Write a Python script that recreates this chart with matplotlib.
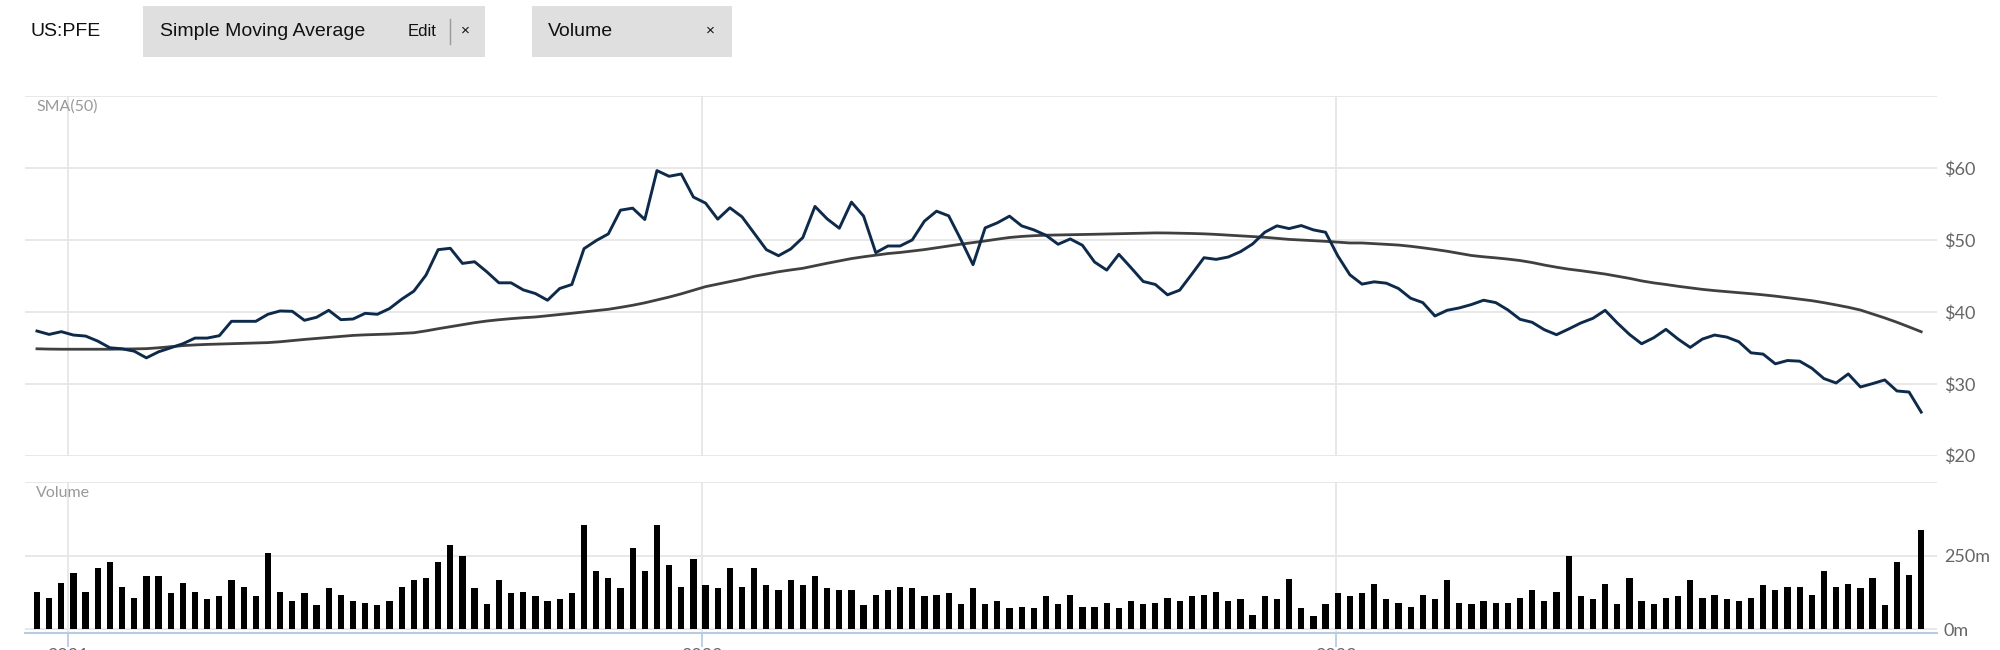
import matplotlib
matplotlib.use("Agg")
import matplotlib.pyplot as plt
import matplotlib.dates as mdates
from matplotlib.patches import Rectangle
from matplotlib.lines import Line2D
import pandas as pd

# weekly closes, US:PFE
dates = pd.date_range("2020-12-14", periods=156, freq="7D")

price = [37.33, 36.86, 37.24, 36.77, 36.63, 35.93, 35.0, 34.86, 34.53, 33.60,
         34.44, 35.0, 35.56, 36.35, 36.35, 36.68, 38.68, 38.68, 38.68, 39.66,
         40.12, 40.07, 38.82, 39.24, 40.21, 38.91, 39.0, 39.79, 39.66, 40.45,
         41.75, 42.87, 45.10, 48.64, 48.83, 46.73, 46.96, 45.57, 44.03, 44.03,
         43.05, 42.54, 41.61, 43.24, 43.80, 48.78, 49.90, 50.83, 54.13, 54.41,
         52.83, 59.63, 58.84, 59.16, 55.95, 55.11, 52.88, 54.46, 53.2, 50.92,
         48.64, 47.80, 48.73, 50.32, 54.65, 52.92, 51.62, 55.25, 53.30, 48.22,
         49.15, 49.15, 49.99, 52.60, 53.99, 53.34, 50.04, 46.55, 51.67, 52.37,
         53.30, 51.95, 51.39, 50.64, 49.39, 50.13, 49.25, 46.92, 45.80, 47.99,
         46.13, 44.22, 43.80, 42.36, 43.01, 45.24, 47.52, 47.29, 47.62, 48.36,
         49.43, 51.06, 51.95, 51.57, 51.99, 51.39, 51.06, 47.80, 45.15, 43.85,
         44.17, 43.98, 43.24, 41.89, 41.28, 39.42, 40.21, 40.54, 41.01, 41.61,
         41.28, 40.26, 38.96, 38.54, 37.51, 36.82, 37.61, 38.45, 39.10, 40.21,
         38.45, 36.86, 35.56, 36.40, 37.56, 36.21, 35.05, 36.21, 36.77, 36.49,
         35.84, 34.30, 34.12, 32.77, 33.23, 33.14, 32.16, 30.72, 30.11, 31.37,
         29.55, 30.02, 30.53, 29.0, 28.85, 26.06]

sma50 = [34.86, 34.82, 34.8, 34.8, 34.8, 34.8, 34.8, 34.82, 34.85, 34.88,
         35.0, 35.15, 35.3, 35.4, 35.47, 35.52, 35.56, 35.61, 35.66, 35.72,
         35.84, 36.0, 36.16, 36.3, 36.44, 36.58, 36.72, 36.8, 36.86, 36.91,
         37.0, 37.09, 37.35, 37.65, 37.93, 38.2, 38.49, 38.72, 38.9, 39.05,
         39.18, 39.28, 39.45, 39.61, 39.8, 39.98, 40.15, 40.35, 40.62, 40.91,
         41.25, 41.65, 42.05, 42.5, 43.0, 43.5, 43.85, 44.2, 44.55, 44.95,
         45.25, 45.57, 45.82, 46.05, 46.4, 46.75, 47.08, 47.4, 47.65, 47.88,
         48.1, 48.25, 48.45, 48.65, 48.9, 49.15, 49.4, 49.62, 49.85, 50.1,
         50.33, 50.48, 50.58, 50.65, 50.68, 50.72, 50.75, 50.78, 50.82, 50.86,
         50.9, 50.94, 50.97, 50.96, 50.93, 50.89, 50.84, 50.76, 50.66, 50.56,
         50.46, 50.36, 50.22, 50.07, 49.98, 49.9, 49.8, 49.68, 49.57, 49.57,
         49.48, 49.38, 49.28, 49.11, 48.9, 48.67, 48.42, 48.12, 47.83, 47.65,
         47.5, 47.33, 47.13, 46.85, 46.5, 46.2, 45.93, 45.72, 45.48, 45.25,
         44.95, 44.65, 44.3, 44.02, 43.8, 43.55, 43.33, 43.12, 42.95, 42.8,
         42.66, 42.52, 42.36, 42.18, 41.97, 41.75, 41.55, 41.27, 40.96, 40.63,
         40.25, 39.7, 39.15, 38.55, 37.9, 37.23]

volume = [127, 106, 158, 191, 127, 206, 227, 144, 106, 180,
          180, 122, 158, 127, 101, 111, 165, 144, 111, 260,
          127, 96, 122, 80, 138, 116, 96, 90, 80, 96,
          144, 165, 175, 227, 286, 249, 138, 85, 165, 122,
          127, 111, 96, 101, 122, 355, 196, 175, 138, 275,
          196, 355, 217, 144, 239, 148, 138, 206, 144, 206,
          148, 132, 165, 148, 180, 138, 132, 132, 80, 116,
          132, 144, 138, 111, 116, 122, 85, 138, 85, 96,
          70, 75, 70, 111, 85, 116, 75, 75, 90, 70,
          96, 85, 90, 106, 96, 111, 116, 127, 96, 101,
          49, 111, 101, 170, 70, 43, 85, 122, 111, 122,
          154, 101, 90, 75, 116, 101, 165, 90, 85, 96,
          90, 90, 106, 132, 96, 127, 249, 111, 101, 154,
          85, 175, 96, 85, 106, 111, 165, 106, 116, 101,
          96, 106, 148, 132, 144, 144, 116, 196, 144, 154,
          138, 175, 80, 227, 185, 338]

year_ticks = pd.to_datetime(["2021-01-01", "2022-01-01", "2023-01-01"])
year_labels = ["2021", "2022", "2023"]
price_ticks = [20, 30, 40, 50, 60, 70]
price_labels = ["$20", "$30", "$40", "$50", "$60", ""]
vol_ticks = [0, 250, 500]
vol_labels = ["0m", "250m", ""]

W, H = 2000, 650
GRID = "#e6e6e6"
TICK = "#666666"
AXBLUE = "#b9cbe3"

fig = plt.figure(figsize=(20, 6.5), dpi=100)
fig.patch.set_facecolor("white")


def px(x, y):
    return x / W, 1 - y / H


x0 = mdates.date2num(dates[0])
xlim = (x0 - 6.9, x0 + 156.3 * 7)

# price panel
ax1 = fig.add_axes([25 / W, (H - 455.7) / H, 1912 / W, 359.7 / H])
ax1.plot(dates, sma50, color="#404040", lw=2.0, zorder=3)
ax1.plot(dates, price, color="#0e2a4b", lw=2.1, zorder=4)
ax1.set_xlim(xlim)
ax1.set_ylim(20, 70)
ax1.set_yticks(price_ticks)
ax1.set_yticklabels(price_labels)
ax1.yaxis.tick_right()
ax1.set_xticks(year_ticks)
ax1.tick_params(axis="x", length=0, labelbottom=False)
ax1.tick_params(axis="y", length=0, pad=5, labelsize=13, labelcolor=TICK)
ax1.grid(True, color=GRID, lw=1.3)
ax1.set_axisbelow(True)
for s in ax1.spines.values():
    s.set_visible(False)
for lab in ax1.get_yticklabels():
    lab.set_fontfamily("Lato")

# volume panel
ax2 = fig.add_axes([25 / W, (H - 633) / H, 1912 / W, 151 / H])
ax2.bar(dates, volume, width=3.6, color="black", zorder=3)
ax2.set_xlim(xlim)
ax2.set_ylim(-13.6, 500)
ax2.set_yticks(vol_ticks)
ax2.set_yticklabels(vol_labels)
ax2.yaxis.tick_right()
ax2.set_xticks(year_ticks)
ax2.set_xticklabels(year_labels)
ax2.tick_params(axis="x", length=10, width=1.3, color=AXBLUE, pad=1,
                labelsize=13, labelcolor=TICK)
ax2.tick_params(axis="y", length=0, pad=5, labelsize=13, labelcolor=TICK)
ax2.grid(True, color=GRID, lw=1.3)
ax2.set_axisbelow(True)
for name, s in ax2.spines.items():
    s.set_visible(name == "bottom")
ax2.spines["bottom"].set_color(AXBLUE)
ax2.spines["bottom"].set_linewidth(1.5)
for lab in ax2.get_yticklabels() + ax2.get_xticklabels():
    lab.set_fontfamily("Lato")

# panel captions
fig.text(*px(36, 107), "SMA(50)", fontsize=11.5, color="#999999",
         family="Lato", va="center", ha="left")
fig.text(*px(36, 493), "Volume", fontsize=11.5, color="#999999",
         family="Lato", va="center", ha="left")

# header with indicator chips
fig.text(*px(30, 31), "US:PFE", fontsize=14, color="#111111",
         family="Liberation Sans", va="center", ha="left")
for bx, bw in [(143, 342), (532, 200)]:
    fig.add_artist(Rectangle(px(bx, 57), bw / W, 51 / H, transform=fig.transFigure,
                             facecolor="#dfdfdf", edgecolor="none"))
fig.text(*px(160, 31), "Simple Moving Average", fontsize=14, color="#111111",
         family="Liberation Sans", va="center", ha="left")
fig.text(*px(408, 31), "Edit", fontsize=12, color="#111111",
         family="Liberation Sans", va="center", ha="left")
fig.add_artist(Line2D([450 / W, 450 / W], [1 - 19 / H, 1 - 44 / H],
                      transform=fig.transFigure, color="#999999", lw=1))
fig.text(*px(465, 31), "×", fontsize=11, color="#111111",
         family="Liberation Sans", va="center", ha="center")
fig.text(*px(548, 31), "Volume", fontsize=14, color="#111111",
         family="Liberation Sans", va="center", ha="left")
fig.text(*px(710, 31), "×", fontsize=11, color="#111111",
         family="Liberation Sans", va="center", ha="center")

fig.savefig("out.png", dpi=100)
